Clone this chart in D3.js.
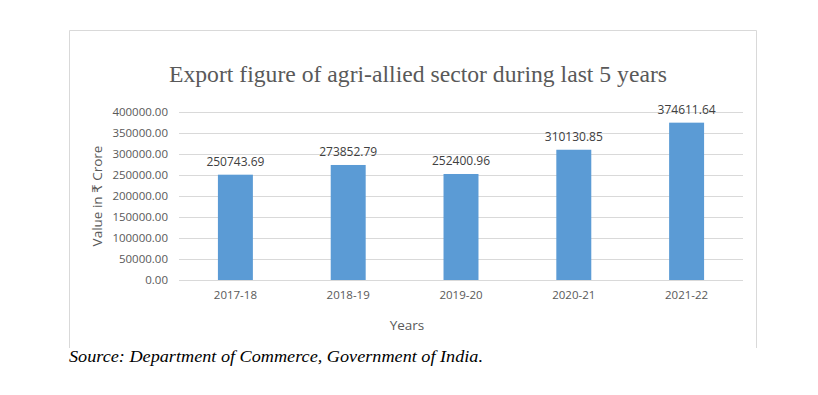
<!DOCTYPE html>
<html>
<head>
<meta charset="utf-8">
<script src="https://cdn.jsdelivr.net/npm/d3@7"></script>
<style>
  body { margin: 0; background: #fff; }
</style>
</head>
<body>
<div id="chart"></div>
<script>
// data
var years = ["2017-18", "2018-19", "2019-20", "2020-21", "2021-22"];
var exportValues = [250743.69, 273852.79, 252400.96, 310130.85, 374611.64];
var yTicks = [0, 50000, 100000, 150000, 200000, 250000, 300000, 350000, 400000];

const W = 818, H = 395;
const BAR_COLOR = "#5b9bd5";
const TEXT_COLOR = "#595959";
const GRID_COLOR = "#d9d9d9";
const uiFont = "'Open Sans', 'DejaVu Sans', sans-serif";

var svg = d3.select("#chart").append("svg")
  .attr("width", W)
  .attr("height", H);

// chart frame (bottom edge hidden under the source line)
svg.append("path")
  .attr("d", "M69.5,348 V30.5 H756.5 V348")
  .attr("fill", "none")
  .attr("stroke", GRID_COLOR)
  .attr("stroke-width", 1);

var x = d3.scaleBand()
  .domain(years)
  .range([179, 743])
  .paddingInner(0.69)
  .paddingOuter(0.345);

var y = d3.scaleLinear()
  .domain([0, 400000])
  .range([280, 112]);

// gridlines
svg.append("g")
  .selectAll("line")
  .data(yTicks)
  .join("line")
  .attr("x1", 179)
  .attr("x2", 743)
  .attr("y1", d => Math.round(y(d)) + 0.5)
  .attr("y2", d => Math.round(y(d)) + 0.5)
  .attr("stroke", GRID_COLOR);

// y axis labels
var yAxis = svg.append("g")
  .attr("transform", "translate(168,0)")
  .call(d3.axisLeft(y).tickValues(yTicks).tickSize(0).tickPadding(0).tickFormat(d3.format(".2f")));
yAxis.select(".domain").remove();
yAxis.selectAll("text")
  .attr("fill", TEXT_COLOR)
  .style("font", "11.5px " + uiFont);

// x axis labels
var xAxis = svg.append("g")
  .attr("transform", "translate(0,291)")
  .call(d3.axisBottom(x).tickSize(0).tickPadding(0));
xAxis.select(".domain").remove();
xAxis.selectAll("text")
  .attr("fill", TEXT_COLOR)
  .style("font", "11.5px " + uiFont);

// bars
svg.append("g")
  .selectAll("rect")
  .data(exportValues)
  .join("rect")
  .attr("x", (d, i) => x(years[i]))
  .attr("width", x.bandwidth())
  .attr("y", d => y(d))
  .attr("height", d => y(0) - y(d))
  .attr("fill", BAR_COLOR);

// data labels
svg.append("g")
  .selectAll("text")
  .data(exportValues)
  .join("text")
  .attr("x", (d, i) => x(years[i]) + x.bandwidth() / 2)
  .attr("y", d => y(d) - 9)
  .attr("text-anchor", "middle")
  .attr("fill", "#404040")
  .style("font", "12px " + uiFont)
  .text(d => d3.format(".2f")(d));

// title
svg.append("text")
  .attr("x", 418)
  .attr("y", 82)
  .attr("text-anchor", "middle")
  .attr("fill", TEXT_COLOR)
  .style("font", "23px 'Liberation Serif', 'DejaVu Serif', serif")
  .attr("textLength", 498)
  .attr("lengthAdjust", "spacingAndGlyphs")
  .text("Export figure of agri-allied sector during last 5 years");

// axis titles
svg.append("text")
  .attr("transform", "translate(102,196) rotate(-90)")
  .attr("text-anchor", "middle")
  .attr("fill", TEXT_COLOR)
  .style("font", "13.5px " + uiFont)
  .text("Value in ₹ Crore");

svg.append("text")
  .attr("x", 407)
  .attr("y", 330)
  .attr("text-anchor", "middle")
  .attr("fill", TEXT_COLOR)
  .style("font", "13.5px " + uiFont)
  .text("Years");

// source note
svg.append("rect")
  .attr("x", 60).attr("y", 348).attr("width", 700).attr("height", 20)
  .attr("fill", "#fff");
svg.append("text")
  .attr("x", 69)
  .attr("y", 362)
  .attr("fill", "#000")
  .style("font", "italic 16.5px 'Liberation Serif', 'DejaVu Serif', serif")
  .attr("textLength", 414)
  .attr("lengthAdjust", "spacingAndGlyphs")
  .text("Source: Department of Commerce, Government of India.");
</script>
</body>
</html>
